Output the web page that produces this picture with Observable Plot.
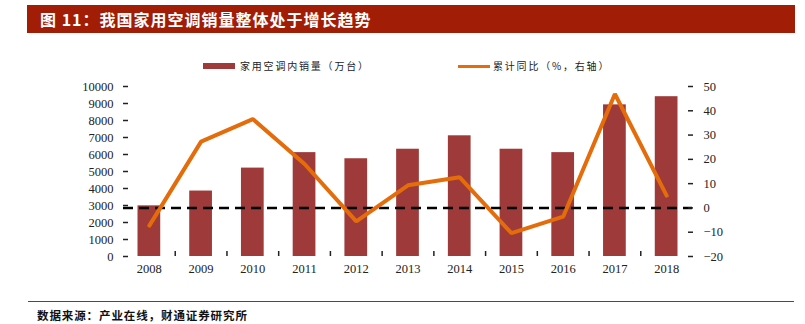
<!DOCTYPE html>
<html>
<head>
<meta charset="utf-8">
<script src="https://cdn.jsdelivr.net/npm/d3@7"></script>
<script src="https://cdn.jsdelivr.net/npm/@observablehq/plot@0.6"></script>
<style>
  html, body { margin: 0; padding: 0; background: #fff; }
  #wrap { position: relative; width: 805px; height: 324px; overflow: hidden; background: #fff; }
  #title { position: absolute; left: 27px; top: 5px; width: 768px; height: 28px; background: #A21D05;
    color: #fff; font-family: "Noto Sans CJK SC", sans-serif; font-weight: bold; font-size: 16px;
    line-height: 28px; letter-spacing: 1px; box-sizing: border-box; padding-left: 13px; }
  .leg { position: absolute; font-family: "Noto Sans CJK SC", sans-serif; font-size: 10px; color: #222; top: 59px; line-height: 14px; letter-spacing: 1.8px; }
  .sw { position: absolute; }
  #plot { position: absolute; left: 0; top: 0; }
  #rule { position: absolute; left: 28px; top: 301px; width: 766px; height: 1px; background: #A52A0A; }
  #src { position: absolute; left: 37px; top: 307px; font-family: "Noto Sans CJK SC", sans-serif; font-weight: bold;
    font-size: 11.5px; letter-spacing: 0.9px; color: #111; line-height: 16px; }
</style>
</head>
<body>
<div id="wrap">
  <div id="title">图 11：我国家用空调销量整体处于增长趋势</div>
  <div class="sw" style="left:203px; top:63px; width:32px; height:6px; background:#9E3A3A;"></div>
  <div class="leg" style="left:240px;">家用空调内销量（万台）</div>
  <div class="sw" style="left:458px; top:65px; width:32px; height:3px; background:#E46C0A;"></div>
  <div class="leg" style="left:493px;">累计同比（%，右轴）</div>
  <div id="plot"></div>
  <div id="rule"></div>
  <div id="src">数据来源：产业在线，财通证券研究所</div>
</div>
<script>
const years = [2008, 2009, 2010, 2011, 2012, 2013, 2014, 2015, 2016, 2017, 2018];
const sales = [2980, 3850, 5200, 6110, 5750, 6310, 7100, 6310, 6110, 8920, 9400];
const yoy = [-7.3, 27.3, 36.6, 18.1, -5.5, 9.3, 12.6, -10.4, -3.6, 46.9, 5.1];
const leftTicks = [0, 1000, 2000, 3000, 4000, 5000, 6000, 7000, 8000, 9000, 10000];
const rightTicks = [-20, -10, 0, 10, 20, 30, 40, 50];

const leftMax = 10000, rMin = -20, rMax = 50;
const conv = v => (v - rMin) / (rMax - rMin) * leftMax;
const unconv = d => Math.round(d / leftMax * (rMax - rMin) + rMin);
const fmtR = d => { const v = unconv(d); return v < 0 ? "−" + Math.abs(v) : String(v); };

const rows = years.map((y, i) => ({year: y, sales: sales[i], yoy: yoy[i]}));
const bounds = years.slice(0, -1).map(y => y + 0.5);

const chart = Plot.plot({
  width: 805,
  height: 290,
  marginTop: 86,
  marginBottom: 34,
  marginLeft: 123,
  marginRight: 113,
  style: {fontFamily: "'Liberation Serif', serif", fontSize: "12.5px", color: "#222", background: "transparent"},
  x: {type: "linear", domain: [2007.5, 2018.5]},
  y: {domain: [0, leftMax]},
  marks: [
    Plot.rectY(rows, {x1: d => d.year - 0.5, x2: d => d.year + 0.5, y: "sales", fill: "#9E3A3A", insetLeft: 14.5, insetRight: 14.5}),
    Plot.ruleY([conv(0)], {stroke: "#000", strokeWidth: 2.5, strokeDasharray: "10,6"}),
    Plot.line(rows, {x: "year", y: d => conv(d.yoy), stroke: "#E46C0A", strokeWidth: 4, strokeLinejoin: "miter"}),
    Plot.axisY({anchor: "left", ticks: leftTicks, tickSize: -5, tickPadding: 15, line: true, label: null, tickFormat: d => String(d), strokeWidth: 1.5}),
    Plot.axisY({anchor: "right", ticks: rightTicks.map(conv), tickSize: -5, tickPadding: 16, line: true, label: null, tickFormat: fmtR, strokeWidth: 1.5}),
    Plot.axisX({anchor: "bottom", ticks: years, tickSize: 0, tickPadding: 8, line: true, label: null, tickFormat: d => String(d), strokeWidth: 1.5}),
    Plot.axisX({anchor: "bottom", ticks: bounds, tickSize: -5, tickFormat: () => "", label: null, strokeWidth: 1.5})
  ]
});
document.getElementById("plot").appendChild(chart);
</script>
</body>
</html>
